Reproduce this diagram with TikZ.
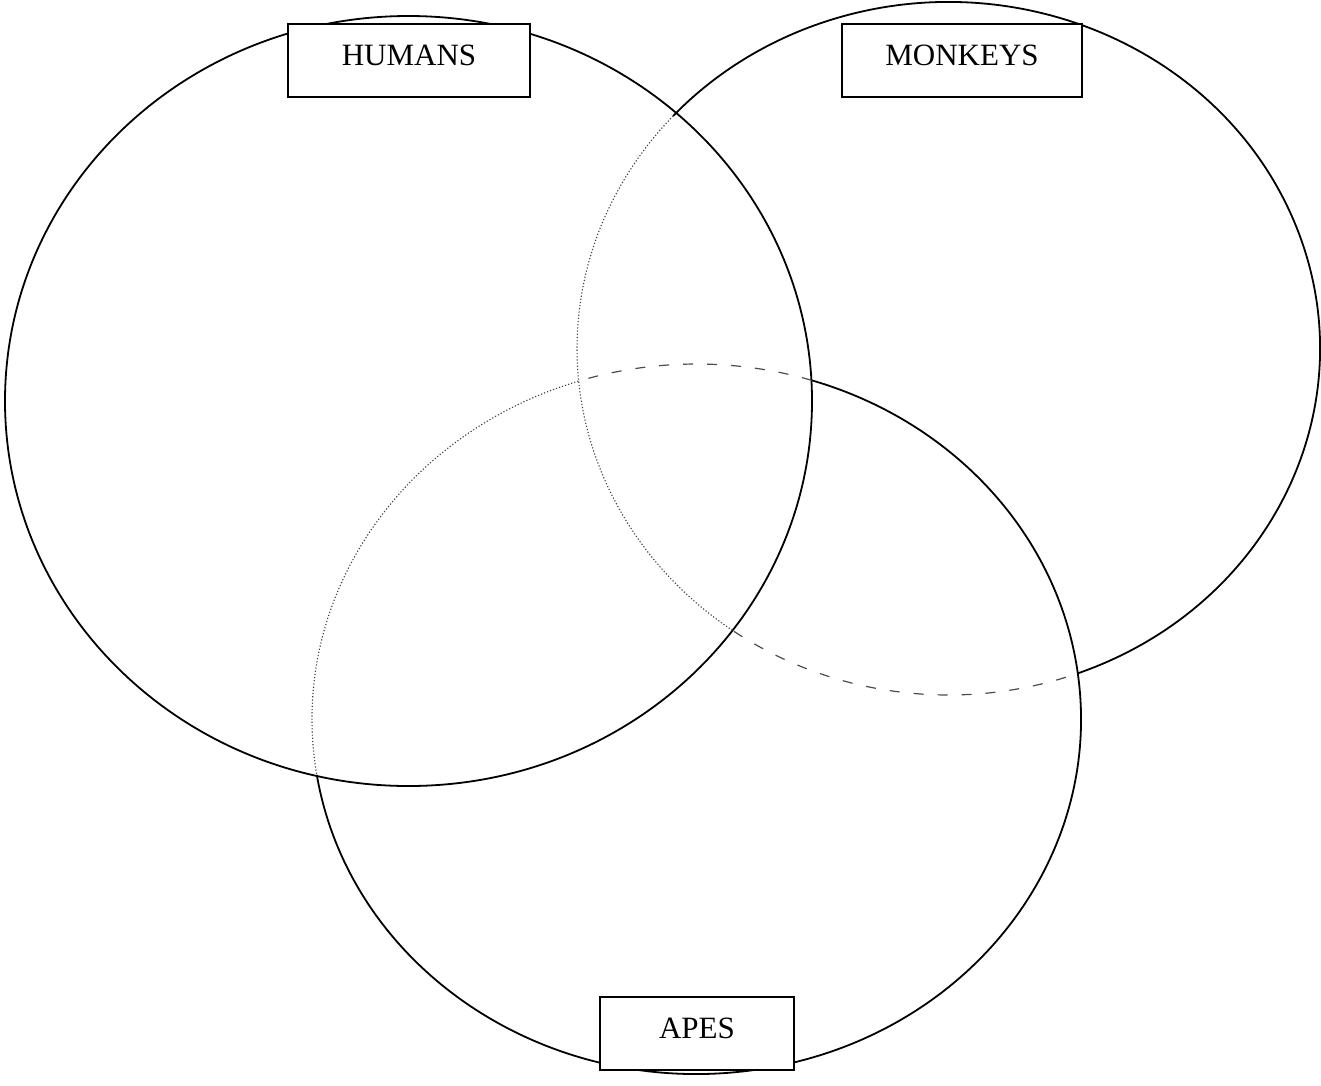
\documentclass[tikz,border=0pt]{standalone}
\usepackage{fontspec}
\setmainfont{Liberation Serif}
\begin{document}
\begin{tikzpicture}[x=1pt,y=-1pt,
  solidline/.style={line width=1.8pt, black},
  dottedline/.style={line width=1.1pt, black!75, dash pattern=on 1.2pt off 2pt},
  dashedline/.style={line width=1.2pt, black!70, dash pattern=on 10pt off 14pt},
  labelbox/.style={draw, fill=white, line width=1.5pt, minimum height=73pt,
    text height=21pt, text depth=12pt, inner sep=0pt,
    font=\fontsize{31}{36}\selectfont}]
\useasboundingbox (0,0) rectangle (1321,1085);
% Humans ellipse
\coordinate (hc) at (408.5,401);
\draw[solidline] (hc) ellipse [x radius=403.5pt, y radius=385pt];
% Monkeys ellipse
\coordinate (mc) at (948.5,348.5);
\draw[solidline] (mc) ++(-69.70:371.5pt and 346.5pt)
  arc[start angle=-69.70, end angle=137.84, x radius=371.5pt, y radius=346.5pt];
\draw[dottedline] (mc) ++(137.84:371.5pt and 346.5pt)
  arc[start angle=137.84, end angle=234.72, x radius=371.5pt, y radius=346.5pt];
\draw[dashedline] (mc) ++(234.72:371.5pt and 346.5pt)
  arc[start angle=234.72, end angle=290.30, x radius=371.5pt, y radius=346.5pt];
% Apes ellipse
\coordinate (ac) at (696.5,719);
\draw[solidline] (ac) ++(189.06:384.5pt and 355pt)
  arc[start angle=189.06, end angle=432.58, x radius=384.5pt, y radius=355pt];
\draw[dottedline] (ac) ++(107.89:384.5pt and 355pt)
  arc[start angle=107.89, end angle=189.06, x radius=384.5pt, y radius=355pt];
\draw[dashedline] (ac) ++(72.58:384.5pt and 355pt)
  arc[start angle=72.58, end angle=107.89, x radius=384.5pt, y radius=355pt];
% Labels
\node[labelbox, minimum width=242pt] (humans) at (409,60.5) {HUMANS};
\node[labelbox, minimum width=240pt] (monkeys) at (962,60.5) {MONKEYS};
\node[labelbox, minimum width=194pt] (apes) at (697,1033.5) {APES};
\end{tikzpicture}
\end{document}
